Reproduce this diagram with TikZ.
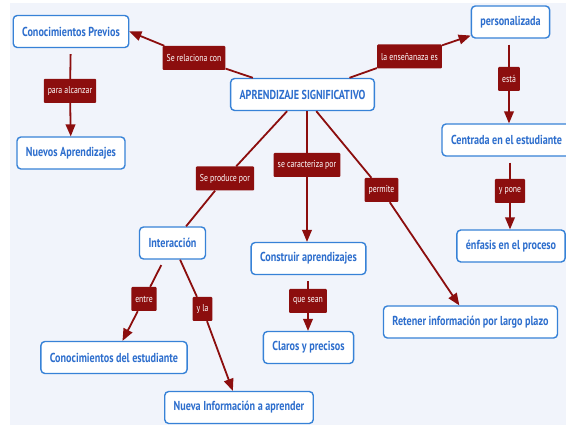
\documentclass[tikz,border=0pt]{standalone}
\usepackage{fontspec}
\newfontfamily\mapfont[FakeStretch=0.78]{PT Sans}
\usetikzlibrary{arrows}
\definecolor{mapblue}{RGB}{55,130,215}
\definecolor{maptext}{RGB}{45,110,205}
\definecolor{mapred}{RGB}{140,14,14}
\definecolor{mapback}{RGB}{241,244,251}
\tikzset
{
    concept/.style  = {rectangle, rounded corners=4pt, draw=mapblue, line width=1.4pt, fill=white, text=maptext, font=\mapfont\bfseries\fontsize{13}{15}\selectfont, minimum height=32pt, inner xsep=9pt},
    linkname/.style = {rectangle, rounded corners=1pt, fill=mapred, text=white, font=\mapfont\fontsize{10}{12}\selectfont, minimum height=24pt, inner xsep=4pt},
    link/.style     = {color=mapred, line width=1.8pt},
    arrow/.style    = {link, ->, >=triangle 45},
    gap/.style      = {shorten <=6pt}
}
\begin{document}
\begin{tikzpicture}[x=1pt, y=-1pt]
	\useasboundingbox (0,0) rectangle (566,425);
	\fill [mapback] (10,3) rectangle (566,425);

	% concepts
	\node (ap) [concept] at (302.5,94.5) {APRENDIZAJE SIGNIFICATIVO};
	\node (cp) [concept] at (71,31.5) {Conocimientos Previos};
	\node (nuevos) [concept] at (71,153) {Nuevos Aprendizajes};
	\node (pers) [concept] at (510.5,22) {personalizada};
	\node (centr) [concept] at (506.5,140) {Centrada en el estudiante};
	\node (enf) [concept] at (511,246) {énfasis en el proceso};
	\node (inter) [concept] at (172.5,243) {Interacción};
	\node (constr) [concept] at (308.5,258.5) {Construir aprendizajes};
	\node (claros) [concept] at (308.5,347.5) {Claros y precisos};
	\node (ret) [concept] at (470.5,322) {Retener información por largo plazo};
	\node (cde) [concept] at (114,357.5) {Conocimientos del estudiante};
	\node (nueva) [concept] at (239,407.5) {Nueva Información a aprender};

	% link names
	\node (lrel) [linkname] at (194,58) {Se relaciona con};
	\node (lpara) [linkname] at (70,91) {para alcanzar};
	\node (lens) [linkname] at (409.5,56.5) {la enseñanaza es};
	\node (lesta) [linkname] at (509,79) {está};
	\node (lprod) [linkname] at (225,178.5) {Se produce por};
	\node (lcar) [linkname] at (307,165) {se caracteriza por};
	\node (lperm) [linkname] at (381.5,190) {permite};
	\node (lpone) [linkname] at (510,191) {y pone};
	\node (lentre) [linkname] at (144,299) {entre};
	\node (lyla) [linkname] at (202.5,309) {y la};
	\node (lsean) [linkname] at (308,301) {que sean};

	\draw [link] (ap) -- (lrel);
	\draw [arrow] (lrel) -- (cp.east);
	\draw [link, gap] (cp) -- (lpara);
	\draw [arrow] (lpara) -- (nuevos);
	\draw [link] (ap) -- (lens);
	\draw [arrow] (lens) -- (pers);
	\draw [link, gap] (lesta |- pers.south) -- (lesta);
	\draw [arrow] (lesta) -- (lesta |- centr.north);
	\draw [link, gap] (lpone |- centr.south) -- (lpone);
	\draw [arrow] (lpone) -- (lpone |- enf.north);
	\draw [link] (ap) -- (lprod);
	\draw [link] (lprod) -- (inter);
	\draw [link] (lcar |- ap.south) -- (lcar);
	\draw [arrow] (lcar) -- (lcar |- constr.north);
	\draw [link] (ap) -- (lperm);
	\draw [arrow] (lperm) -- (ret);
	\draw [link, gap] (inter) -- (lentre);
	\draw [arrow] (lentre) -- (cde);
	\draw [link] (inter) -- (lyla);
	\draw [arrow] (lyla) -- (nueva);
	\draw [link, gap] (lsean |- constr.south) -- (lsean);
	\draw [arrow] (lsean) -- (lsean |- claros.north);
\end{tikzpicture}
\end{document}
